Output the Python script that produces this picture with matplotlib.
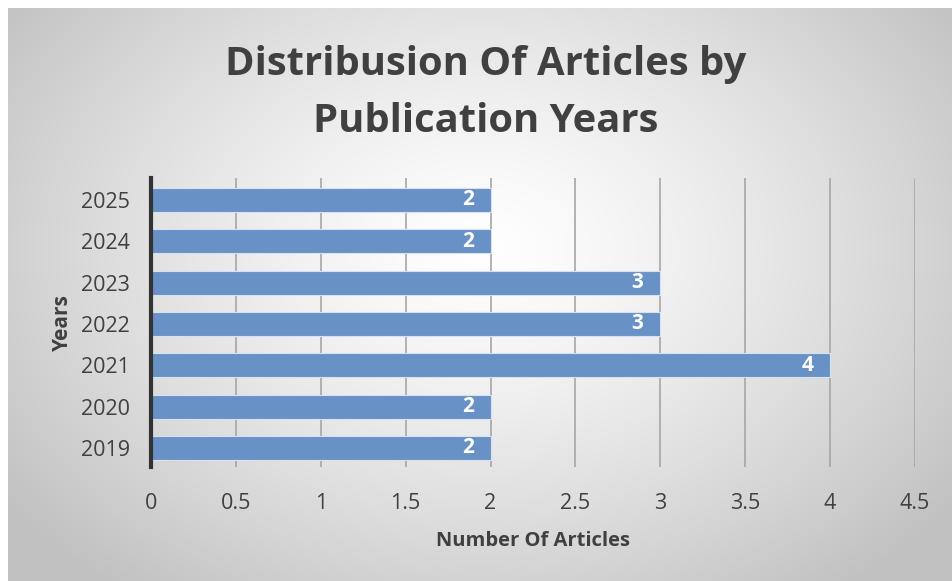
import numpy as np
import matplotlib
matplotlib.use("Agg")
import matplotlib.pyplot as plt

years = ["2019", "2020", "2021", "2022", "2023", "2024", "2025"]
counts = [2, 2, 4, 3, 3, 2, 2]
xticks = [0, 0.5, 1, 1.5, 2, 2.5, 3, 3.5, 4, 4.5]
xtick_labels = ["0", "0.5", "1", "1.5", "2", "2.5", "3", "3.5", "4", "4.5"]

plt.rcParams['font.family'] = ['Open Sans', 'DejaVu Sans']
txt = '#404040'

W, H = 952, 581
fig = plt.figure(figsize=(W/100, H/100), dpi=100)
fig.patch.set_facecolor('white')

# radial gradient background
bg = fig.add_axes([8/W, 0, 1-8/W, 1-8/H], zorder=-5)
nx, ny = 400, 240
xx, yy = np.meshgrid(np.linspace(0, 1, nx), np.linspace(0, 1, ny))
cx, cy = 0.5, 0.42
r = np.sqrt(((xx-cx)/0.62)**2 + ((yy-cy)/0.75)**2)
r = np.clip(r, 0, 1)
val = 1.0 - 0.24*r**1.3
img = np.dstack([val, val, val])
bg.imshow(img, aspect='auto', extent=[0, 1, 0, 1], origin='upper')
bg.axis('off')

ax = fig.add_axes([151/W, 1-467/H, (915-151)/W, (467-178)/H])
ax.set_facecolor('none')
ypos = np.arange(len(years))
bars = ax.barh(ypos, counts, height=0.58, color='#6891c6', edgecolor='#d6e2f0', linewidth=0.8, zorder=3)
ax.set_xlim(0, 4.5)
ax.set_ylim(-0.46, 6.53)
ax.set_xticks(xticks)
ax.set_xticklabels(xtick_labels)
ax.set_yticks(ypos)
ax.set_yticklabels(years)
ax.tick_params(axis='both', length=0, labelsize=15.5, colors=txt)
ax.tick_params(axis='x', pad=19)
ax.tick_params(axis='y', pad=15)
ax.xaxis.grid(True, color='#a6a6a6', linewidth=1.2, zorder=0)
for s in ['top', 'right', 'bottom']:
    ax.spines[s].set_visible(False)
ax.spines['left'].set_linewidth(3)
ax.spines['left'].set_color('#333333')
ax.spines['left'].set_zorder(4)

for b, v in zip(bars, counts):
    ax.text(b.get_width()-0.1, b.get_y()+b.get_height()/2, str(v), ha='right', va='center',
            color='white', fontsize=15, fontweight='bold', zorder=5)

ax.set_xlabel("Number Of Articles", fontsize=14.5, fontweight='bold', color=txt, labelpad=12)
ax.set_ylabel("Years", fontsize=15, fontweight='bold', color=txt, labelpad=6)

tx = 486/W
fig.text(tx, 1-65/H, "Distribusion Of Articles by", ha='center', va='center',
         fontsize=28.8, fontweight='bold', color=txt)
fig.text(tx, 1-121/H, "Publication Years", ha='center', va='center',
         fontsize=28.8, fontweight='bold', color=txt)

fig.savefig("out.png", dpi=100)
